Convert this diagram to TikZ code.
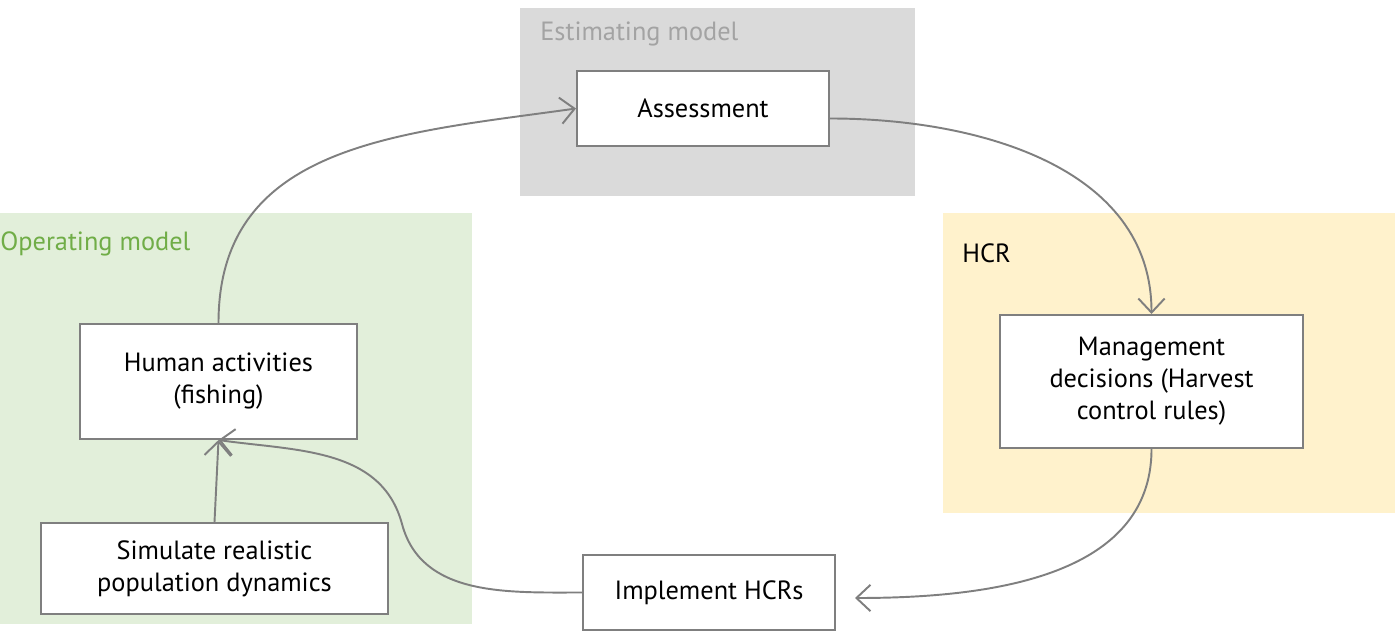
\documentclass[tikz,border=0pt]{standalone}
\usepackage{fontspec}
\setmainfont{PT Sans}
\usetikzlibrary{arrows.meta}
\definecolor{estbg}{HTML}{DADADA}
\definecolor{opbg}{HTML}{E2EFDA}
\definecolor{hcrbg}{HTML}{FFF2CC}
\definecolor{optext}{HTML}{70AD47}
\definecolor{esttext}{HTML}{A3A3A3}
\definecolor{linegray}{HTML}{7F7F7F}

\begin{document}
\begin{tikzpicture}[x=0.02cm,y=-0.02cm,
  box/.style={draw=linegray,line width=1.2pt,fill=white,align=center,inner sep=0pt},
  link/.style={draw=linegray,line width=1.1pt,-{Straight Barb[length=8pt,width=15pt]}}]
\fontsize{15}{18.2}\selectfont
\useasboundingbox (0,0) rectangle (1395,634);
% Coloured panels behind the boxes
\fill[estbg] (520,8) rectangle (915,196);
\fill[opbg] (0,213) rectangle (472,624);
\fill[hcrbg] (943,213) rectangle (1395,513);
\node[anchor=west,text=esttext,inner sep=0pt] (estlabel) at (540,34) {Estimating model};
\node[anchor=west,text=optext,inner sep=0pt] (oplabel) at (0,244) {Operating model};
\node[anchor=west,inner sep=0pt] (hcrlabel) at (962,253) {HCR};
% The boxes of the loop
\node[box,minimum width=5.04cm,minimum height=1.5cm] (assess) at (703,108.5) {Assessment};
\node[box,minimum width=6.06cm,minimum height=2.66cm] (mgmt) at (1151.5,381.5)
  {Management\\decisions (Harvest\\control rules)};
\node[box,minimum width=5.04cm,minimum height=1.5cm] (impl) at (709,592.5) {Implement HCRs};
\node[box,minimum width=5.54cm,minimum height=2.3cm] (human) at (218.5,381.5)
  {Human activities\\(fishing)};
\node[box,minimum width=6.94cm,minimum height=1.82cm] (sim) at (214.5,568.5)
  {Simulate realistic\\population dynamics};
% Free ends and bends of the connectors
\coordinate (implin) at (855,598);
\coordinate (kink) at (402,524);
% Connectors
\draw[link] (human.north) to[out=90,in=188,looseness=1.1] (assess.west);
\draw[link] ([yshift=-0.2cm]assess.east) to[out=0,in=90] (mgmt.north);
\draw[link] (mgmt.south) to[out=-90,in=0] (implin);
\draw[link] (impl.west) to[out=180,in=-75] (kink) to[out=105,in=-8] (human.south);
\draw[link] (sim.north) -- (human.south);
\end{tikzpicture}
\end{document}
